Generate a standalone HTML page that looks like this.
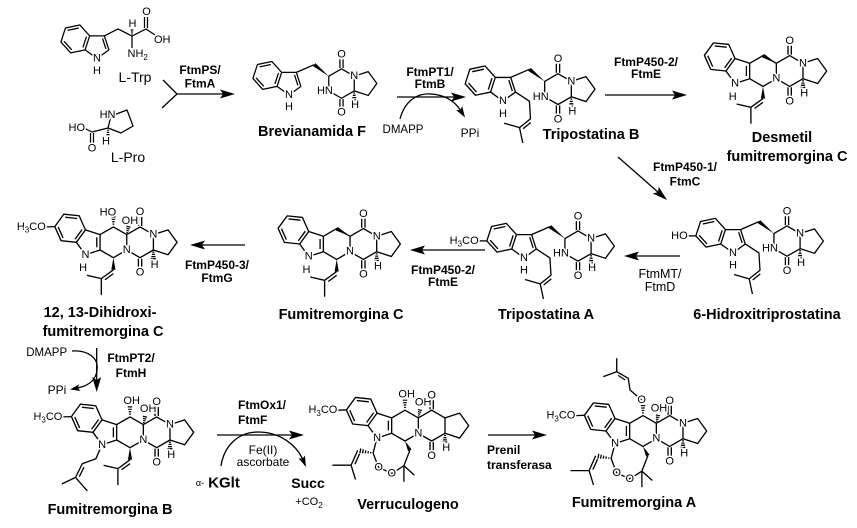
<!DOCTYPE html>
<html><head><meta charset="utf-8"><title>Fumitremorgin biosynthesis</title>
<style>
html,body{margin:0;padding:0;background:#fff;width:857px;height:528px;overflow:hidden}
svg{display:block}
text{font-family:"Liberation Sans",Arial,Helvetica,sans-serif;fill:#000}
.a{text-anchor:middle;dominant-baseline:central;stroke:#fff;stroke-width:3px;paint-order:stroke;stroke-linejoin:round}
.e{text-anchor:end;dominant-baseline:central;stroke:#fff;stroke-width:3px;paint-order:stroke;stroke-linejoin:round}
.s{text-anchor:start;dominant-baseline:central;stroke:#fff;stroke-width:3px;paint-order:stroke;stroke-linejoin:round}
.c{text-anchor:middle;dominant-baseline:central}
.st{text-anchor:start;dominant-baseline:central}
.b{font-weight:bold}
</style></head><body>
<svg width="857" height="528" viewBox="0 0 857 528">
<rect width="857" height="528" fill="#fff"/>
<defs>
<g id="ind" stroke="#000" stroke-width="1.2" fill="none" stroke-linejoin="round">
<polygon points="-7,-9.63 -16.36,-20.03 -30.06,-17.12 -34.38,-3.81 -25.02,6.59 -11.33,3.68"/>
<polyline points="-7,-9.63 7,-9.63 11.33,3.68 0,11.91 -11.33,3.68"/>
<path d="M-17.31,-17.1L-28,-14.83M-31.37,-4.45L-24.07,3.66M-10.01,-8.99L-13.38,1.39M5.25,-7.22L8.5,2.76"/>
</g>
<g id="dkp" stroke="#000" stroke-width="1.2" fill="none" stroke-linejoin="round">
<path d="M7,-9.63L24,-17"/>
<polygon fill="#000" stroke="none" points="37.88,-6 25.12,-18.41 22.88,-15.59"/>
<polygon points="37.88,-6 50,-13 62.12,-6 62.12,8 50,15 37.88,8"/>
<path d="M48.5,-13.8V-22M51.5,-13.8V-22M48.5,15.8V24M51.5,15.8V24"/>
<polyline points="62.12,-6 75.43,-10.33 83.66,1 75.43,12.33 62.12,8"/>
<path d="M61.3,10H62.9M60.8,12.2H63.4M60.3,14.4H63.9M59.8,16.6H64.4"/>
</g>
<g id="pren" stroke="#000" stroke-width="1.2" fill="none" stroke-linejoin="round">
<polyline points="11.33,3.68 24,12 25,28 15,36 1,32"/>
<path d="M15,36L18,50M25.25,31.39L18.25,36.99"/>
</g>
<g id="core" stroke="#000" stroke-width="1.2" fill="none" stroke-linejoin="round">
<polygon points="-25.43,-11.33 -31.12,-24.12 -45.04,-25.58 -53.27,-14.25 -47.58,-1.46 -33.66,0"/>
<polyline points="-25.43,-11.33 -12.12,-7 -12.12,7 -25.43,11.33 -33.66,0"/>
<path d="M-32.93,-21.63L-43.79,-22.77M-50.21,-13.93L-45.77,-3.95M-28.49,-11.65L-34.91,-2.81M-15.1,-4.5V4.5"/>
<polyline points="-12.12,-7 0,-14 12.12,-7 12.12,7 0,14 -12.12,7"/>
<polyline points="12.12,-7 24.24,-14 36.36,-7 36.36,7 24.24,14 12.12,7"/>
<path d="M22.74,-14.8V-23M25.74,-14.8V-23M22.74,14.8V23M25.74,14.8V23"/>
<polyline points="36.36,-7 49.67,-11.33 57.9,0 49.67,11.33 36.36,7"/>
<path d="M35.5,9H37.2M35,11H37.7M34.5,13H38.2M34,15H38.7"/>
</g>
<g id="cpren" stroke="#000" stroke-width="1.2" fill="none" stroke-linejoin="round">
<polygon fill="#000" stroke="none" points="0,14 1.9,25 -1.9,25"/>
<path d="M0,25L-11,33L-24,30M-11,33V48M0,28.47L-7.7,34.07"/>
</g>
<g id="wT"><polygon fill="#000" points="12.12,-7 0.9,-15.56 -0.9,-12.44"/></g>
<g id="hT" stroke="#000" stroke-width="1.1"><path d="M-0.8,-16.5H0.8M-1.2,-18.7H1.2M-1.6,-20.9H1.6M-2,-23.1H2"/></g>
<g id="hU" stroke="#000" stroke-width="1.1"><path d="M11.81,-8.94L13.19,-8.66M11.79,-10.82L13.95,-10.38M11.78,-12.71L14.72,-12.09M11.76,-14.59L15.48,-13.81"/></g>
<g id="ome" stroke="#000" stroke-width="1.2"><path d="M-53.27,-14.25L-61,-14"/></g>
<g id="perox" stroke="#000" stroke-width="1.2" fill="none" stroke-linejoin="round">
<polyline points="-25.43,11.33 -29,25 -24,38 -12,43.5 -1,36.5 4.4,22.5"/>
<path d="M-1,36.5L8.5,45M-1,36.5V51M-43,22.5L-49,36L-66,36M-49,36L-45,49M-41.34,25.64L-45.54,35.14"/>
<path d="M-31,24.04L-31.2,25.22M-33.3,23.22L-33.66,25.19M-35.61,22.4L-36.11,25.16M-37.92,21.58L-38.56,25.12M-40.23,20.76L-41.01,25.1"/>
<polygon fill="#000" stroke="none" points="0,14 6,21.67 2.8,23.33"/>
</g>
<g id="npren" stroke="#000" stroke-width="1.2" fill="none" stroke-linejoin="round">
<polyline points="-25.43,11.33 -31,24 -43.4,28.6 -49.5,41 -62,47"/>
<path d="M-49.5,41L-38.8,53.3M-41.81,31.69L-46.08,40.37"/>
</g>
<g id="opren" stroke="#000" stroke-width="1.2" fill="none" stroke-linejoin="round">
<polyline points="-1.2,-28.2 -11.8,-37.3 -13.4,-47.9 -23.9,-53.9 -23.9,-66.1"/>
<path d="M-23.9,-53.9L-36.1,-49.4M-16.16,-46.37L-22.55,-50.57"/>
</g>
</defs>

<!-- ===== Row 1 ===== -->
<!-- L-Trp -->
<g transform="translate(97,46) scale(1.05)"><use href="#ind"/></g>
<g stroke="#000" stroke-width="1.25" fill="none">
<path d="M104.35,35.9L118,29L132,36L146,29L155,35M144.5,28V17M147.5,28V17M132,36V48"/>
<path d="M131.3,34H132.7M131,32H133M130.6,30H133.4"/>
</g>
<g font-size="11">
<text class="a" x="97" y="58.5">N</text>
<text class="a" x="97" y="71">H</text>
<text class="a" x="146.5" y="12">O</text>
<text class="s" x="154" y="40">OH</text>
<text class="a" x="132.5" y="24">H</text>
<text class="s" x="127.5" y="54">NH<tspan font-size="8" dy="3">2</tspan></text>
</g>
<text class="c" x="135" y="77" font-size="14">L-Trp</text>

<!-- L-Pro -->
<g stroke="#000" stroke-width="1.25" fill="none" stroke-linejoin="round">
<polygon points="111,116 127,110 133,126 121,133 108,128"/>
<path d="M108,128L92,132L84,128M90.5,133V144M93.5,133V144"/>
<path d="M107.2,130.2H108.8M106.8,132.4H109.2M106.4,134.6H109.6"/>
</g>
<g font-size="11">
<text class="e" x="115.5" y="115">HN</text>
<text class="e" x="85" y="128">HO</text>
<text class="a" x="92" y="148.5">O</text>
<text class="a" x="106" y="141.5">H</text>
</g>
<text class="c" x="128" y="157" font-size="14">L-Pro</text>

<!-- Arrow 1 -->
<g stroke="#000" stroke-width="1.3" fill="none">
<path d="M163,80L177,94L162,108M177,94H224"/>
</g>
<polygon points="235,94 220,89.5 223,94 220,98.5" fill="#000"/>
<text class="c b" x="200" y="70" font-size="12">FtmPS/</text>
<text class="c b" x="200" y="83.5" font-size="12">FtmA</text>

<!-- Brevianamida F -->
<g transform="translate(289,82.5) scale(1.05)">
<use href="#ind"/><use href="#dkp"/>
<g font-size="10.5">
<text class="a" x="0" y="11.91">N</text>
<text class="a" x="0" y="23.5">H</text>
<text class="e" x="41.8" y="8">HN</text>
<text class="a" x="62.12" y="-6">N</text>
<text class="a" x="50" y="-26.5">O</text>
<text class="a" x="50" y="28.5">O</text>
<text class="a" x="63" y="21.5">H</text>
</g>
</g>
<text class="c b" x="312" y="132" font-size="14.5">Brevianamida F</text>

<!-- Arrow 2 -->
<g stroke="#000" stroke-width="1.3" fill="none">
<path d="M397,97H455"/>
<path d="M400,119C405,100 418,93 431,94C446,95 455,102 460.2,109.9"/>
</g>
<polygon points="466,97 451,92.5 454,97 451,101.5" fill="#000"/>
<polygon points="465,117.5 456.2,110.1 460.2,109.9 462.2,106.3" fill="#000"/>
<text class="c b" x="430" y="72" font-size="12">FtmPT1/</text>
<text class="c b" x="430" y="84" font-size="12">FtmB</text>
<text class="c" x="403" y="130" font-size="11.5">DMAPP</text>
<text class="c" x="470" y="133" font-size="12">PPi</text>

<!-- Tripostatina B -->
<g transform="translate(503,88) scale(1.1)">
<use href="#ind"/><use href="#dkp"/><use href="#pren"/>
<g font-size="10">
<text class="a" x="0" y="11.91">N</text>
<text class="a" x="0" y="23.5">H</text>
<text class="e" x="41.5" y="8">HN</text>
<text class="a" x="62.12" y="-6">N</text>
<text class="a" x="50" y="-26.5">O</text>
<text class="a" x="50" y="28.5">O</text>
<text class="a" x="63" y="21.5">H</text>
</g>
</g>
<text class="c b" x="591" y="135" font-size="14.5">Tripostatina B</text>

<!-- Arrow 3 -->
<g stroke="#000" stroke-width="1.3" fill="none"><path d="M605,95H676"/></g>
<polygon points="687,95 672,90.5 675,95 672,99.5" fill="#000"/>
<text class="c b" x="646" y="62" font-size="12">FtmP450-2/</text>
<text class="c b" x="646" y="74" font-size="12">FtmE</text>

<!-- Desmetil fumitremorgina C -->
<g transform="translate(763,71) scale(1.1)">
<use href="#core"/><use href="#wT"/><use href="#cpren"/>
<g font-size="10">
<text class="a" x="-25.43" y="11.33">N</text>
<text class="a" x="-27.5" y="23.5">H</text>
<text class="a" x="12.12" y="7">N</text>
<text class="a" x="36.36" y="-7">N</text>
<text class="a" x="24.24" y="-27.5">O</text>
<text class="a" x="24.24" y="27.5">O</text>
<text class="a" x="37.5" y="20.5">H</text>
</g>
</g>
<text class="c b" x="782" y="138" font-size="14.5">Desmetil</text>
<text class="c b" x="787" y="157" font-size="14.5">fumitremorgina C</text>

<!-- Arrow 4 (diagonal) -->
<g stroke="#000" stroke-width="1.3" fill="none"><path d="M618,157L658,192.1"/></g>
<polygon points="667,200 652.7,193.5 658,192.1 658.7,186.7" fill="#000"/>
<text class="c b" x="685" y="167" font-size="12">FtmP450-1/</text>
<text class="c b" x="685" y="181.5" font-size="12">FtmC</text>

<!-- ===== Row 2 ===== -->
<!-- 6-Hidroxitriprostatina -->
<g transform="translate(733,240) scale(1.08)">
<use href="#ind"/><use href="#dkp"/><use href="#pren"/>
<path d="M-34.38,-3.81H-42" stroke="#000" stroke-width="1.2"/>
<g font-size="10.2">
<text class="e" x="-42" y="-3.81">HO</text>
<text class="a" x="0" y="11.91">N</text>
<text class="a" x="0" y="23.5">H</text>
<text class="e" x="41.6" y="8">HN</text>
<text class="a" x="62.12" y="-6">N</text>
<text class="a" x="50" y="-26.5">O</text>
<text class="a" x="50" y="28.5">O</text>
<text class="a" x="63" y="21.5">H</text>
</g>
</g>
<text class="c b" x="767" y="315" font-size="14.5">6-Hidroxitriprostatina</text>

<!-- Arrow 5 -->
<g stroke="#000" stroke-width="1.3" fill="none"><path d="M680,256H635"/></g>
<polygon points="624,256 639,251.5 636,256 639,260.5" fill="#000"/>
<text class="c" x="660" y="274" font-size="12.5">FtmMT/</text>
<text class="c" x="660" y="287" font-size="12.5">FtmD</text>

<!-- Tripostatina A -->
<g transform="translate(524,245) scale(1.08)">
<use href="#ind"/><use href="#dkp"/><use href="#pren"/>
<path d="M-34.38,-3.81H-42" stroke="#000" stroke-width="1.2"/>
<g font-size="10.2">
<text class="e" x="-42" y="-3.81">H<tspan font-size="7.5" dy="2.5">3</tspan><tspan dy="-2.5">CO</tspan></text>
<text class="a" x="0" y="11.91">N</text>
<text class="a" x="0" y="23.5">H</text>
<text class="e" x="41.6" y="8">HN</text>
<text class="a" x="62.12" y="-6">N</text>
<text class="a" x="50" y="-26.5">O</text>
<text class="a" x="50" y="28.5">O</text>
<text class="a" x="63" y="21.5">H</text>
</g>
</g>
<text class="c b" x="546" y="315" font-size="14.5">Tripostatina A</text>

<!-- Arrow 6 -->
<g stroke="#000" stroke-width="1.3" fill="none"><path d="M485,250H421"/></g>
<polygon points="410,250 425,245.5 422,250 425,254.5" fill="#000"/>
<text class="c b" x="443" y="270" font-size="12">FtmP450-2/</text>
<text class="c b" x="443" y="282" font-size="12">FtmE</text>

<!-- Fumitremorgina C -->
<g transform="translate(336.7,244) scale(1.1)">
<use href="#core"/><use href="#wT"/><use href="#cpren"/>
<g font-size="10">
<text class="a" x="-25.43" y="11.33">N</text>
<text class="a" x="-27.5" y="23.5">H</text>
<text class="a" x="12.12" y="7">N</text>
<text class="a" x="36.36" y="-7">N</text>
<text class="a" x="24.24" y="-27.5">O</text>
<text class="a" x="24.24" y="27.5">O</text>
<text class="a" x="37.5" y="20.5">H</text>
</g>
</g>
<text class="c b" x="341" y="315" font-size="14.5">Fumitremorgina C</text>

<!-- Arrow 7 -->
<g stroke="#000" stroke-width="1.3" fill="none"><path d="M245,245H201"/></g>
<polygon points="190,245 205,240.5 202,245 205,249.5" fill="#000"/>
<text class="c b" x="217" y="265" font-size="12">FtmP450-3/</text>
<text class="c b" x="217" y="278" font-size="12">FtmG</text>

<!-- 12,13-Dihidroxi-fumitremorgina C -->
<g transform="translate(113.4,242.3) scale(1.1)">
<use href="#core"/><use href="#cpren"/><use href="#hT"/><use href="#hU"/><use href="#ome"/>
<g font-size="10">
<text class="e" x="-61.5" y="-14">H<tspan font-size="7.3" dy="2.5">3</tspan><tspan dy="-2.5">CO</tspan></text>
<text class="e" x="2.5" y="-27">HO</text>
<text class="a" x="15" y="-19.5">OH</text>
<text class="a" x="-25.43" y="11.33">N</text>
<text class="a" x="-27.5" y="23.5">H</text>
<text class="a" x="12.12" y="7">N</text>
<text class="a" x="36.36" y="-7">N</text>
<text class="a" x="24.24" y="-27.5">O</text>
<text class="a" x="24.24" y="27.5">O</text>
<text class="a" x="37.5" y="20.5">H</text>
</g>
</g>
<text class="c b" x="100" y="313" font-size="14.5">12, 13-Dihidroxi-</text>
<text class="c b" x="103" y="332" font-size="14.5">fumitremorgina C</text>

<!-- ===== Row 3 ===== -->
<!-- Arrow 8 (down) -->
<g stroke="#000" stroke-width="1.3" fill="none">
<path d="M96.7,348V381"/>
<path d="M72,351C88,350 99,358 97,370C96,381 87,386 77.8,387.9"/>
</g>
<polygon points="96.7,392 92.2,377 96.7,380 101.2,377" fill="#000"/>
<polygon points="70,389.5 79.3,384.2 77.8,387.9 80.5,391" fill="#000"/>
<text class="c" x="46.7" y="353" font-size="11.5">DMAPP</text>
<text class="c" x="57" y="390" font-size="12">PPi</text>
<text class="c b" x="131" y="358" font-size="12">FtmPT2/</text>
<text class="c b" x="131" y="373" font-size="12">FtmH</text>

<!-- Fumitremorgina B -->
<g transform="translate(130,432.3) scale(1.1)">
<use href="#core"/><use href="#cpren"/><use href="#npren"/><use href="#hT"/><use href="#hU"/><use href="#ome"/>
<g font-size="10">
<text class="e" x="-61.5" y="-14">H<tspan font-size="7.3" dy="2.5">3</tspan><tspan dy="-2.5">CO</tspan></text>
<text class="a" x="1.5" y="-28.5">OH</text>
<text class="a" x="16.5" y="-21">OH</text>
<text class="a" x="-25.43" y="11.33">N</text>
<text class="a" x="12.12" y="7">N</text>
<text class="a" x="36.36" y="-7">N</text>
<text class="a" x="24.24" y="-27.5">O</text>
<text class="a" x="24.24" y="27.5">O</text>
<text class="a" x="37.5" y="20.5">H</text>
</g>
</g>
<text class="c b" x="110" y="510" font-size="14.5">Fumitremorgina B</text>

<!-- Arrow 9 -->
<g stroke="#000" stroke-width="1.3" fill="none">
<path d="M217,435H293"/>
<path d="M221,466C224,446 238,432 258,432C280,432 296,445 302.5,458.7"/>
</g>
<polygon points="304,435 289,430.5 292,435 289,439.5" fill="#000"/>
<polygon points="306,467 298.5,458.3 302.5,458.7 304.9,455.5" fill="#000"/>
<text class="st b" x="238" y="405" font-size="12">FtmOx1/</text>
<text class="st b" x="238" y="420" font-size="12">FtmF</text>
<text class="c" x="263" y="450" font-size="12">Fe(II)</text>
<text class="c" x="263" y="462" font-size="12">ascorbate</text>
<text class="c" x="200" y="483" font-size="9">α-</text>
<text class="c b" x="224" y="483" font-size="15">KGlt</text>
<text class="c b" x="308" y="483" font-size="14">Succ</text>
<text class="c" x="309" y="502" font-size="11">+CO<tspan font-size="8" dy="3">2</tspan></text>

<!-- Verruculogeno -->
<g transform="translate(405,425.6) scale(1.1)">
<use href="#core"/><use href="#perox"/><use href="#hT"/><use href="#hU"/><use href="#ome"/>
<g font-size="10">
<text class="e" x="-61.5" y="-14">H<tspan font-size="7.3" dy="2.5">3</tspan><tspan dy="-2.5">CO</tspan></text>
<text class="a" x="1.5" y="-28.5">OH</text>
<text class="a" x="16.5" y="-21">OH</text>
<text class="a" x="-25.43" y="11.33">N</text>
<text class="a" x="12.12" y="7">N</text>
<text class="a" x="24.24" y="-27.5">O</text>
<text class="a" x="24.24" y="27.5">O</text>
<text class="a" x="37.5" y="20.5">H</text>
<text class="a" x="-24" y="38">O</text>
<text class="a" x="-12" y="43.5">O</text>
</g>
</g>
<text class="c b" x="408" y="505" font-size="14.5">Verruculogeno</text>

<!-- Arrow 10 -->
<g stroke="#000" stroke-width="1.3" fill="none"><path d="M488,435H536"/></g>
<polygon points="547,435 532,430.5 535,435 532,439.5" fill="#000"/>
<text class="st b" x="487" y="450" font-size="12">Prenil</text>
<text class="st b" x="487" y="465" font-size="12">transferasa</text>

<!-- Fumitremorgina A -->
<g transform="translate(643,431) scale(1.1)">
<use href="#core"/><use href="#perox"/><use href="#opren"/><use href="#hT"/><use href="#hU"/><use href="#ome"/>
<g font-size="10">
<text class="e" x="-61.5" y="-14">H<tspan font-size="7.3" dy="2.5">3</tspan><tspan dy="-2.5">CO</tspan></text>
<text class="a" x="-1.2" y="-28.2">O</text>
<text class="a" x="14.5" y="-20.6">OH</text>
<text class="a" x="-25.43" y="11.33">N</text>
<text class="a" x="12.12" y="7">N</text>
<text class="a" x="36.36" y="-7">N</text>
<text class="a" x="24.24" y="-27.5">O</text>
<text class="a" x="24.24" y="27.5">O</text>
<text class="a" x="37.5" y="20.5">H</text>
<text class="a" x="-24" y="38">O</text>
<text class="a" x="-12" y="43.5">O</text>
</g>
</g>
<text class="c b" x="634" y="503" font-size="14.5">Fumitremorgina A</text>
</svg>
</body></html>
